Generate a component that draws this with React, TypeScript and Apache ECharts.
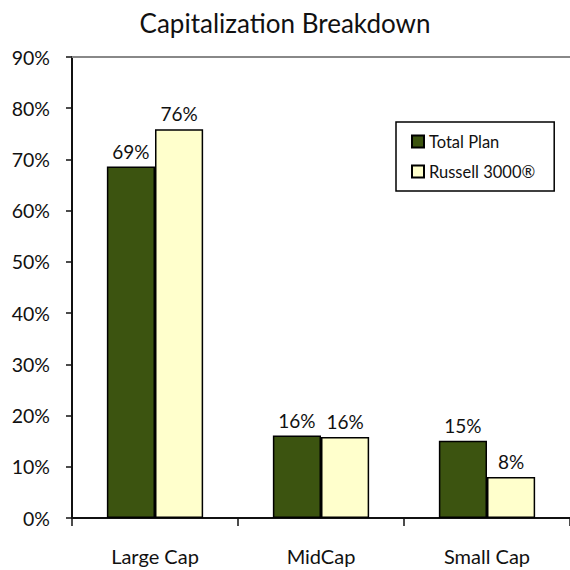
import React, { useEffect, useRef } from "react";
import * as echarts from "echarts";

const categories = ["Large Cap", "MidCap", "Small Cap"];
const totalPlan = [68.6, 16.1, 15.1];
const russell3000 = [75.9, 15.8, 8.0];
const seriesNames = ["Total Plan", "Russell 3000®"];
const titleText = "Capitalization Breakdown";

const FONT = "Lato";

export default function App() {
  const ref = useRef<HTMLDivElement>(null);
  useEffect(() => {
    if (!ref.current) return;
    const chart = echarts.init(ref.current, null, { renderer: "svg" });
    const labelCfg = {
      show: true,
      position: "top" as const,
      distance: 6,
      fontFamily: FONT,
      fontSize: 19,
      color: "#111",
      formatter: (p: any) => Math.round(p.value) + "%",
    };
    chart.setOption({
      animation: false,
      backgroundColor: "#fff",
      title: {
        text: titleText,
        left: "center",
        top: 5,
        textStyle: { fontFamily: FONT, fontSize: 26, fontWeight: "normal", color: "#111" },
      },
      legend: {
        orient: "vertical",
        left: 396,
        top: 122,
        data: seriesNames,
        icon: "rect",
        itemWidth: 12,
        itemHeight: 12,
        itemGap: 13,
        borderColor: "#000",
        borderWidth: 1.5,
        padding: [11, 19, 11, 15],
        textStyle: { fontFamily: FONT, fontSize: 16.5, color: "#111" },
      },
      grid: { left: 72, top: 57, width: 502, height: 461 },
      xAxis: [
        {
          type: "category",
          data: categories,
          axisLine: { lineStyle: { color: "#111", width: 2 } },
          axisTick: { show: true, length: 8, lineStyle: { color: "#111", width: 1.5 } },
          axisLabel: { margin: 28, fontFamily: FONT, fontSize: 20, color: "#111" },
        },
        {
          type: "category",
          data: categories,
          position: "top",
          axisLine: { lineStyle: { color: "#888", width: 2 } },
          axisTick: { show: false },
          axisLabel: { show: false },
        },
      ],
      yAxis: {
        type: "value",
        min: 0,
        max: 90,
        interval: 10,
        splitLine: { show: false },
        axisLine: { show: true, lineStyle: { color: "#111", width: 2 } },
        axisTick: { show: true, length: 6, lineStyle: { color: "#111", width: 1.5 } },
        axisLabel: {
          formatter: "{value}%",
          margin: 22,
          fontFamily: FONT,
          fontSize: 19.5,
          color: "#111",
        },
      },
      series: [
        {
          name: seriesNames[0],
          type: "bar",
          data: totalPlan,
          barGap: "0%",
          barCategoryGap: "42%",
          itemStyle: { color: "#3C5410", borderColor: "#000", borderWidth: 1.5 },
          label: labelCfg,
        },
        {
          name: seriesNames[1],
          type: "bar",
          data: russell3000,
          itemStyle: { color: "#FFFFCC", borderColor: "#000", borderWidth: 1.5 },
          label: labelCfg,
        },
      ],
    });
    return () => chart.dispose();
  }, []);
  return (
    <div
      ref={ref}
      style={{ position: "fixed", left: 0, top: 0, width: 570, height: 570 }}
    />
  );
}
